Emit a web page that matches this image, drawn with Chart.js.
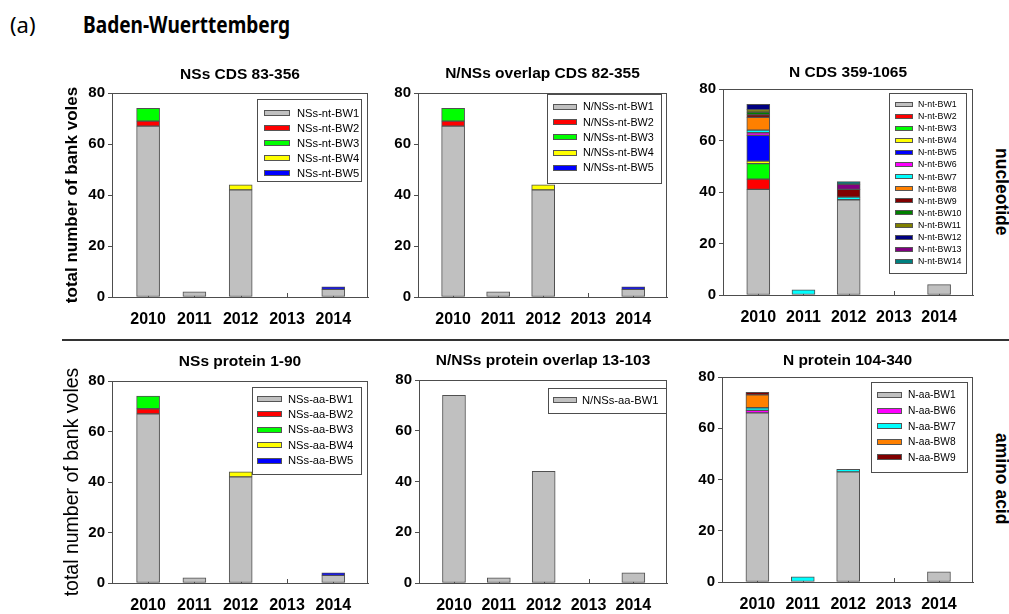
<!DOCTYPE html>
<html>
<head>
<meta charset="utf-8">
<script src="https://cdn.jsdelivr.net/npm/chart.js@4.4.1/dist/chart.umd.min.js"></script>
<style>
  html, body { margin: 0; padding: 0; background: #fff; }
  body { width: 1009px; height: 614px; position: relative; overflow: hidden; font-family: "Liberation Sans", Arial, sans-serif; }
  canvas { position: absolute; }
  .hdr { position: absolute; white-space: nowrap; line-height: 1; color: #000; }
  .side { position: absolute; white-space: nowrap; line-height: 1; font: bold 17.5px "Liberation Sans", Arial, sans-serif; transform-origin: 0 0; transform: rotate(90deg); }
  #divider { position: absolute; left: 62px; top: 339px; width: 947px; height: 2px; background: #333; }
</style>
</head>
<body>
<div class="hdr" style="left:10px; top:9px; font: 22px 'Noto Sans', sans-serif;">(a)</div>
<div class="hdr" style="left:83px; top:8px; font: bold 23px 'Noto Sans', sans-serif; transform-origin:0 0; transform: scaleX(0.83);">Baden-Wuerttemberg</div>
<div id="divider"></div>
<div class="side" style="left:1012px; top:148px;">nucleotide</div>
<div class="side" style="left:1012px; top:433px;">amino acid</div>
<canvas id="c1"></canvas>
<canvas id="c2"></canvas>
<canvas id="c3"></canvas>
<canvas id="c4"></canvas>
<canvas id="c5"></canvas>
<canvas id="c6"></canvas>
<script>
// ---------------- DATA ----------------
const years = [2010, 2011, 2012, 2013, 2014];
const yTicks = [0, 20, 40, 60, 80];

// Panel 1: NSs CDS 83-356 (nucleotide)
const nssNtBW1 = [67, 2, 42, 0, 3];
const nssNtBW2 = [2, 0, 0, 0, 0];
const nssNtBW3 = [5, 0, 0, 0, 0];
const nssNtBW4 = [0, 0, 2, 0, 0];
const nssNtBW5 = [0, 0, 0, 0, 1];

// Panel 2: N/NSs overlap CDS 82-355 (nucleotide)
const nnssNtBW1 = [67, 2, 42, 0, 3];
const nnssNtBW2 = [2, 0, 0, 0, 0];
const nnssNtBW3 = [5, 0, 0, 0, 0];
const nnssNtBW4 = [0, 0, 2, 0, 0];
const nnssNtBW5 = [0, 0, 0, 0, 1];

// Panel 3: N CDS 359-1065 (nucleotide)
const nNtBW1  = [41, 0, 37, 0, 4];
const nNtBW2  = [4, 0, 0, 0, 0];
const nNtBW3  = [6, 0, 0, 0, 0];
const nNtBW4  = [1, 0, 0, 0, 0];
const nNtBW5  = [10, 0, 0, 0, 0];
const nNtBW6  = [1, 0, 0, 0, 0];
const nNtBW7  = [1, 2, 1, 0, 0];
const nNtBW8  = [5, 0, 0, 0, 0];
const nNtBW9  = [1, 0, 3, 0, 0];
const nNtBW10 = [1, 0, 0, 0, 0];
const nNtBW11 = [1, 0, 0, 0, 0];
const nNtBW12 = [2, 0, 0, 0, 0];
const nNtBW13 = [0, 0, 2, 0, 0];
const nNtBW14 = [0, 0, 1, 0, 0];

// Panel 4: NSs protein 1-90 (amino acid)
const nssAaBW1 = [67, 2, 42, 0, 3];
const nssAaBW2 = [2, 0, 0, 0, 0];
const nssAaBW3 = [5, 0, 0, 0, 0];
const nssAaBW4 = [0, 0, 2, 0, 0];
const nssAaBW5 = [0, 0, 0, 0, 1];

// Panel 5: N/NSs protein overlap 13-103 (amino acid)
const nnssAaBW1 = [74, 2, 44, 0, 4];

// Panel 6: N protein 104-340 (amino acid)
const nAaBW1 = [66, 0, 43, 0, 4];
const nAaBW6 = [1, 0, 0, 0, 0];
const nAaBW7 = [1, 2, 1, 0, 0];
const nAaBW8 = [5, 0, 0, 0, 0];
const nAaBW9 = [1, 0, 0, 0, 0];

// ---------------- STYLE ----------------
const C = {
  gray: '#C0C0C0', red: '#FF0000', green: '#00FF00', yellow: '#FFFF00', blue: '#0000FF',
  magenta: '#FF00FF', cyan: '#00FFFF', orange: '#FF8000', darkred: '#800000',
  darkgreen: '#008000', olive: '#808000', navy: '#000080', purple: '#800080', teal: '#008080'
};
const FONT = '"Liberation Sans", Arial, sans-serif';
const EDGE = '#4d4d4d';

const panels = [
  { id: 'c1', L: 112, T: 93, R: 368, B: 297, title: 'NSs CDS 83-356', titleY: 75,
    yTitle: { text: 'total number of bank voles', size: 17, weight: 'bold', pad: 10 },
    series: [['NSs-nt-BW1', nssNtBW1, C.gray], ['NSs-nt-BW2', nssNtBW2, C.red], ['NSs-nt-BW3', nssNtBW3, C.green],
             ['NSs-nt-BW4', nssNtBW4, C.yellow], ['NSs-nt-BW5', nssNtBW5, C.blue]],
    legend: { box: [257, 99, 361, 181], y0: 113, step: 15, swX: 264, swW: 26, swH: 6, tx: 297, font: 11.2 } },
  { id: 'c2', L: 418, T: 93, R: 667, B: 297, title: 'N/NSs overlap CDS 82-355', titleY: 74,
    series: [['N/NSs-nt-BW1', nnssNtBW1, C.gray], ['N/NSs-nt-BW2', nnssNtBW2, C.red], ['N/NSs-nt-BW3', nnssNtBW3, C.green],
             ['N/NSs-nt-BW4', nnssNtBW4, C.yellow], ['N/NSs-nt-BW5', nnssNtBW5, C.blue]],
    legend: { box: [547, 94, 661, 183], y0: 107, step: 15.2, swX: 553, swW: 24, swH: 6, tx: 583, font: 10.8 } },
  { id: 'c3', L: 723, T: 89, R: 973, B: 295, title: 'N CDS 359-1065', titleY: 73,
    series: [['N-nt-BW1', nNtBW1, C.gray], ['N-nt-BW2', nNtBW2, C.red], ['N-nt-BW3', nNtBW3, C.green],
             ['N-nt-BW4', nNtBW4, C.yellow], ['N-nt-BW5', nNtBW5, C.blue], ['N-nt-BW6', nNtBW6, C.magenta],
             ['N-nt-BW7', nNtBW7, C.cyan], ['N-nt-BW8', nNtBW8, C.orange], ['N-nt-BW9', nNtBW9, C.darkred],
             ['N-nt-BW10', nNtBW10, C.darkgreen], ['N-nt-BW11', nNtBW11, C.olive], ['N-nt-BW12', nNtBW12, C.navy],
             ['N-nt-BW13', nNtBW13, C.purple], ['N-nt-BW14', nNtBW14, C.teal]],
    legend: { box: [889, 93, 966, 273], y0: 104, step: 12.1, swX: 895, swW: 18, swH: 5, tx: 918, font: 8.8 } },
  { id: 'c4', L: 112, T: 381, R: 368, B: 583, title: 'NSs protein 1-90', titleY: 362,
    yTitle: { text: 'total number of bank voles', size: 19.5, weight: 'normal', pad: 9 },
    series: [['NSs-aa-BW1', nssAaBW1, C.gray], ['NSs-aa-BW2', nssAaBW2, C.red], ['NSs-aa-BW3', nssAaBW3, C.green],
             ['NSs-aa-BW4', nssAaBW4, C.yellow], ['NSs-aa-BW5', nssAaBW5, C.blue]],
    legend: { box: [252, 387, 361, 474], y0: 399, step: 15.4, swX: 257, swW: 25, swH: 6, tx: 288, font: 11.2 } },
  { id: 'c5', L: 419, T: 380, R: 667, B: 583, title: 'N/NSs protein overlap 13-103', titleY: 361,
    series: [['N/NSs-aa-BW1', nnssAaBW1, C.gray]],
    legend: { box: [548, 388, 666, 413], y0: 400, step: 15, swX: 553, swW: 24, swH: 6, tx: 582, font: 11.2 } },
  { id: 'c6', L: 722, T: 377, R: 973, B: 582, title: 'N protein 104-340', titleY: 361,
    series: [['N-aa-BW1', nAaBW1, C.gray], ['N-aa-BW6', nAaBW6, C.magenta], ['N-aa-BW7', nAaBW7, C.cyan],
             ['N-aa-BW8', nAaBW8, C.orange], ['N-aa-BW9', nAaBW9, C.darkred]],
    legend: { box: [871, 382, 967, 472], y0: 395, step: 15.6, swX: 877, swW: 25, swH: 6, tx: 908, font: 10.2 } }
];

const PADL = 60, PADT = 40, PADR = 6, PADB = 35;

const decor = {
  id: 'decor',
  beforeDatasetsDraw(chart) {
    const { ctx, chartArea: a } = chart;
    ctx.save();
    ctx.strokeStyle = EDGE; ctx.lineWidth = 1;
    const xs = chart.scales.x;
    years.forEach(v => {
      const px = Math.round(xs.getPixelForValue(v)) + 0.5;
      ctx.beginPath(); ctx.moveTo(px, a.bottom); ctx.lineTo(px, a.bottom - 4); ctx.stroke();
    });
    ctx.restore();
  },
  afterDraw(chart, args, o) {
    const { ctx, chartArea: a } = chart;
    ctx.save();
    ctx.strokeStyle = EDGE; ctx.lineWidth = 1;
    ctx.strokeRect(a.left + 0.5, a.top + 0.5, a.right - a.left - 1, a.bottom - a.top);
    // title
    ctx.fillStyle = '#000';
    ctx.font = 'bold 15.5px ' + FONT;
    ctx.textAlign = 'center'; ctx.textBaseline = 'middle';
    ctx.fillText(o.title, (a.left + a.right) / 2, o.titleY - o.oy);
    // legend
    const lg = o.legend, ox = o.ox, oy = o.oy;
    ctx.fillStyle = '#fff';
    ctx.fillRect(lg.box[0] - ox, lg.box[1] - oy, lg.box[2] - lg.box[0], lg.box[3] - lg.box[1]);
    ctx.strokeStyle = EDGE;
    ctx.strokeRect(lg.box[0] - ox + 0.5, lg.box[1] - oy + 0.5, lg.box[2] - lg.box[0], lg.box[3] - lg.box[1]);
    ctx.font = lg.font + 'px ' + FONT;
    ctx.textAlign = 'left'; ctx.textBaseline = 'middle';
    chart.data.datasets.forEach((ds, i) => {
      const cy = lg.y0 + i * lg.step - oy;
      const sx = lg.swX - ox;
      ctx.fillStyle = ds.backgroundColor;
      ctx.fillRect(sx, Math.round(cy - lg.swH / 2), lg.swW, lg.swH);
      ctx.strokeStyle = '#555';
      ctx.strokeRect(sx + 0.5, Math.round(cy - lg.swH / 2) + 0.5, lg.swW - 1, lg.swH - 1);
      ctx.fillStyle = '#000';
      ctx.fillText(ds.label, lg.tx - ox, cy + 0.5);
    });
    ctx.restore();
  }
};

panels.forEach(p => {
  const cv = document.getElementById(p.id);
  const ox = p.L - PADL, oy = p.T - PADT;
  cv.width = PADL + (p.R - p.L) + PADR;
  cv.height = PADT + (p.B - p.T) + PADB;
  cv.style.left = ox + 'px';
  cv.style.top = oy + 'px';

  const datasets = p.series.map(([label, vals, color]) => ({
    label,
    data: years.map((yr, i) => ({ x: yr, y: vals[i] === 0 ? null : vals[i] })),
    backgroundColor: color,
    borderColor: '#505050',
    borderWidth: 1,
    borderSkipped: false,
    barThickness: 23,
    stack: 'one'
  }));

  new Chart(cv, {
    type: 'bar',
    data: { datasets },
    plugins: [decor],
    options: {
      responsive: false,
      animation: false,
      devicePixelRatio: 1,
      layout: { padding: { left: 0, top: PADT, right: PADR, bottom: 0 } },
      plugins: {
        legend: { display: false },
        title: { display: false },
        tooltip: { enabled: false },
        decor: { title: p.title, titleY: p.titleY, legend: p.legend, ox, oy }
      },
      scales: {
        x: {
          type: 'linear',
          offset: false,
          min: 2009.22, max: 2014.75,
          afterBuildTicks: s => { s.ticks = years.map(v => ({ value: v })); },
          afterFit: s => { s.height = PADB; },
          ticks: { callback: v => String(v), autoSkip: false, maxRotation: 0, padding: 13,
                   color: '#000', font: { family: FONT, size: 16, weight: 'bold' } },
          grid: { display: true, offset: false, drawOnChartArea: false, drawTicks: false },
          border: { display: true, color: EDGE, width: 1 }
        },
        y: {
          stacked: true,
          min: 0, max: 80,
          afterBuildTicks: s => { s.ticks = yTicks.map(v => ({ value: v })); },
          afterFit: s => { s.width = PADL; },
          ticks: { padding: 3, color: '#000', font: { family: FONT, size: 15, weight: 'bold' } },
          grid: { display: true, drawOnChartArea: false, drawTicks: true, tickLength: 4, tickColor: EDGE },
          border: { display: true, color: EDGE, width: 1 },
          title: p.yTitle ? {
            display: true, text: p.yTitle.text, color: '#000',
            padding: { top: p.yTitle.pad, bottom: 0 },
            font: { family: FONT, size: p.yTitle.size, weight: p.yTitle.weight, lineHeight: 1.2 }
          } : { display: false }
        }
      }
    }
  });
});
</script>
</body>
</html>
